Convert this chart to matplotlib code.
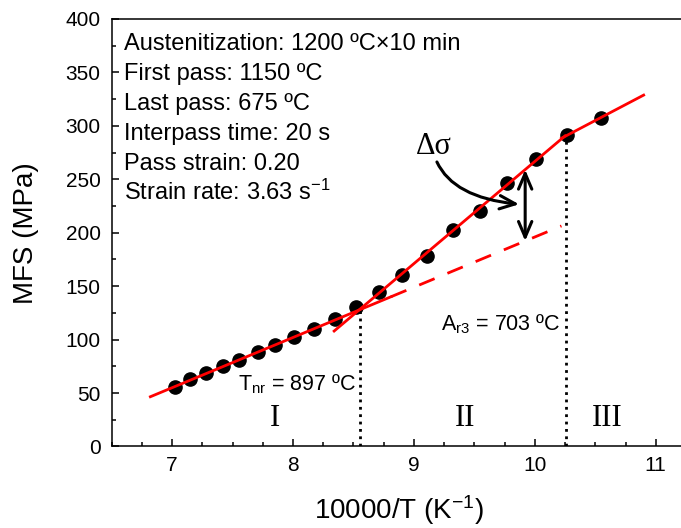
import numpy as np
import matplotlib
matplotlib.use('Agg')
import matplotlib.pyplot as plt
from matplotlib.ticker import MultipleLocator

plt.rcParams.update({
    'font.family': ['Liberation Sans', 'DejaVu Sans'],
    'mathtext.default': 'regular',
    'font.size': 15,
    'axes.linewidth': 1.1,
})
SERIF = ['Liberation Serif', 'DejaVu Serif']

# mean flow stress per pass vs. inverse absolute temperature
inv_t = [7.02, 7.15, 7.28, 7.42, 7.55, 7.71, 7.85, 8.01, 8.17, 8.35, 8.52,
         8.71, 8.90, 9.11, 9.32, 9.55, 9.77, 10.01, 10.27, 10.55]
mfs = [55.9, 63.1, 68.4, 75.2, 80.8, 88.0, 94.9, 102.6, 109.8, 119.2, 130.7,
       144.7, 160.9, 178.3, 203.0, 220.4, 246.5, 268.7, 291.1, 307.7]

# linear fits of regions I, II, III: (slope, intercept)
fit_i = (47.0, -274.0)
fit_ii = (95.6, -689.3)
fit_iii = (59.4, -318.7)

# x ranges of the fit lines
span_i = (6.82, 8.81)
span_i_ext = (8.81, 10.22)
span_ii = (8.34, 10.25)
span_iii = (10.22, 10.90)

t_nr = 8.552    # 897 C
a_r3 = 10.254   # 703 C
x_dsig = 9.92

conditions = ['Austenitization: 1200 ºC×10 min',
              'First pass: 1150 ºC',
              'Last pass: 675 ºC',
              'Interpass time: 20 s',
              'Pass strain: 0.20',
              'Strain rate: 3.63 s$^{-1}$']


def fit_y(fit, x):
    return fit[0] * np.asarray(x) + fit[1]


fig = plt.figure(figsize=(6.81, 5.28), dpi=100)
ax = fig.add_axes([0.164, 0.1544, 0.8433, 0.8097])

ax.plot(inv_t, mfs, 'o', color='black', ms=9.5, zorder=2)

for fit, span, ls in [(fit_i, span_i, '-'), (fit_i, span_i_ext, (0, (6, 5))),
                      (fit_ii, span_ii, '-'), (fit_iii, span_iii, '-')]:
    xs = np.array(span)
    ax.plot(xs, fit_y(fit, xs), color='red', lw=2, ls=ls, zorder=3)

# transition temperatures
ax.plot([t_nr, t_nr], [0, fit_y(fit_i, t_nr)], color='black', lw=2, ls=':', zorder=1)
ax.plot([a_r3, a_r3], [0, fit_y(fit_ii, a_r3)], color='black', lw=2, ls=':', zorder=1)

ax.text(8.52, 52.8, 'T$_{nr}$ = 897 ºC', ha='right', va='baseline', fontsize=15.5)
ax.text(9.22, 108.9, 'A$_{r3}$ = 703 ºC', ha='left', va='baseline', fontsize=15.5)

# stress increment between region I extrapolation and region II
ax.annotate('', xy=(x_dsig, fit_y(fit_ii, x_dsig)), xytext=(x_dsig, fit_y(fit_i, x_dsig)),
            arrowprops=dict(arrowstyle='<->,head_length=0.75,head_width=0.32', lw=2.2,
                            color='black', shrinkA=0, shrinkB=0), zorder=4)
ax.annotate('', xy=(9.87, 226.6), xytext=(9.19, 266.2),
            arrowprops=dict(arrowstyle='->,head_length=0.75,head_width=0.32', lw=2.2,
                            color='black', shrinkA=0, shrinkB=0,
                            connectionstyle='angle3,angleA=-65,angleB=-6'), zorder=4)
ax.text(9.165, 280.4, 'Δσ', family=SERIF, fontsize=22, ha='center', va='center')

for label, xr in [('I', 7.851), ('II', 9.426), ('III', 10.60)]:
    ax.text(xr, 26.6, label, family=SERIF, fontsize=22, ha='center', va='center')

for i, line in enumerate(conditions):
    ax.text(6.60, 370.6 - 28.0 * i, line, fontsize=17, ha='left', va='baseline')

ax.set_xlim(6.5, 11.25)
ax.set_ylim(0, 400)
ax.xaxis.set_major_locator(MultipleLocator(1))
ax.xaxis.set_minor_locator(MultipleLocator(0.25))
ax.yaxis.set_major_locator(MultipleLocator(50))
ax.yaxis.set_minor_locator(MultipleLocator(25))
ax.tick_params(which='both', direction='in', top=False, right=False)
ax.tick_params(which='major', length=5, width=1.1, labelsize=15)
ax.tick_params(which='minor', length=3, width=1.1)
ax.tick_params(axis='x', pad=7)
ax.tick_params(axis='y', pad=8)

ax.set_xlabel('10000/T (K$^{-1}$)', fontsize=20)
ax.set_ylabel('MFS (MPa)', fontsize=20)
ax.xaxis.set_label_coords(0.5003, -0.1485)
ax.xaxis.label.set_va('center')
ax.yaxis.set_label_coords(-0.149, 0.5)
ax.yaxis.label.set_va('center')

fig.savefig('out.png', dpi=100)
